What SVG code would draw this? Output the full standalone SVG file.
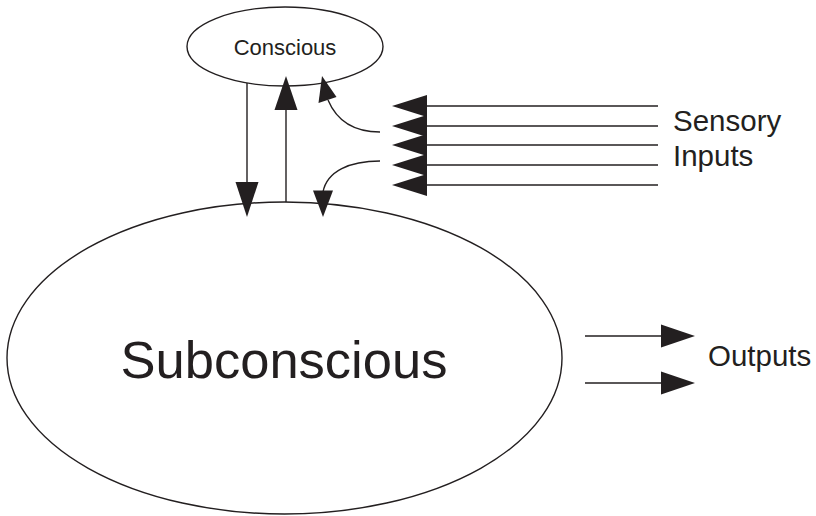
<svg xmlns="http://www.w3.org/2000/svg" width="816" height="516" viewBox="0 0 816 516">
  <style>
    .shape { fill: none; stroke: #231f20; stroke-width: 1.4; }
    .line { fill: none; stroke: #231f20; stroke-width: 1.4; }
    .head { fill: #231f20; stroke: none; }
    .label { font-family: "Liberation Sans", Arial, sans-serif; fill: #231f20; }
  </style>
  <rect width="816" height="516" fill="#ffffff"/>

  <g id="conscious">
    <ellipse class="shape" cx="285" cy="46.5" rx="98" ry="39.5"/>
    <text class="label" x="285" y="55" font-size="22" text-anchor="middle">Conscious</text>
  </g>

  <g id="subconscious">
    <ellipse class="shape" cx="284.5" cy="358" rx="277.5" ry="156"/>
    <text class="label" x="284" y="378" font-size="52.5" text-anchor="middle">Subconscious</text>
  </g>

  <g id="sensory-inputs">
    <text class="label" x="673" y="131" font-size="29.5">Sensory</text>
    <text class="label" x="673" y="166" font-size="29.5">Inputs</text>
  </g>

  <g id="outputs">
    <text class="label" x="708" y="366" font-size="29.5">Outputs</text>
  </g>

  <g id="connectors">
    <!-- conscious to subconscious -->
    <line class="line" x1="247" y1="83" x2="247" y2="183"/>
    <polygon class="head" points="235.5,182 258.5,182 247,217"/>
    <!-- subconscious to conscious -->
    <line class="line" x1="286" y1="202" x2="286" y2="109"/>
    <polygon class="head" points="274.5,110 297.5,110 286,76"/>
    <!-- sensory branch to conscious -->
    <path class="line" d="M380,132 C352,132 336,119 328,100"/>
    <polygon class="head" points="322,76 318.5,103 336.5,97"/>
    <!-- sensory branch to subconscious -->
    <path class="line" d="M380,161 C350,161 327,171 323,192"/>
    <polygon class="head" points="313,190.5 333,190.5 323,217"/>
    <!-- sensory input lines -->
    <line class="line" x1="426" y1="106" x2="658" y2="106"/>
    <line class="line" x1="426" y1="126" x2="658" y2="126"/>
    <line class="line" x1="426" y1="145" x2="658" y2="145"/>
    <line class="line" x1="426" y1="165" x2="658" y2="165"/>
    <line class="line" x1="426" y1="185" x2="658" y2="185"/>
    <polygon class="head" points="427,95 427,117 392,106"/>
    <polygon class="head" points="427,115 427,137 392,126"/>
    <polygon class="head" points="427,134 427,156 392,145"/>
    <polygon class="head" points="427,154 427,176 392,165"/>
    <polygon class="head" points="427,174 427,196 392,185"/>
    <!-- outputs -->
    <line class="line" x1="585" y1="336" x2="662" y2="336"/>
    <polygon class="head" points="661,324.5 661,347.5 695,336"/>
    <line class="line" x1="585" y1="383" x2="662" y2="383"/>
    <polygon class="head" points="661,371.5 661,394.5 695,383"/>
  </g>
</svg>
